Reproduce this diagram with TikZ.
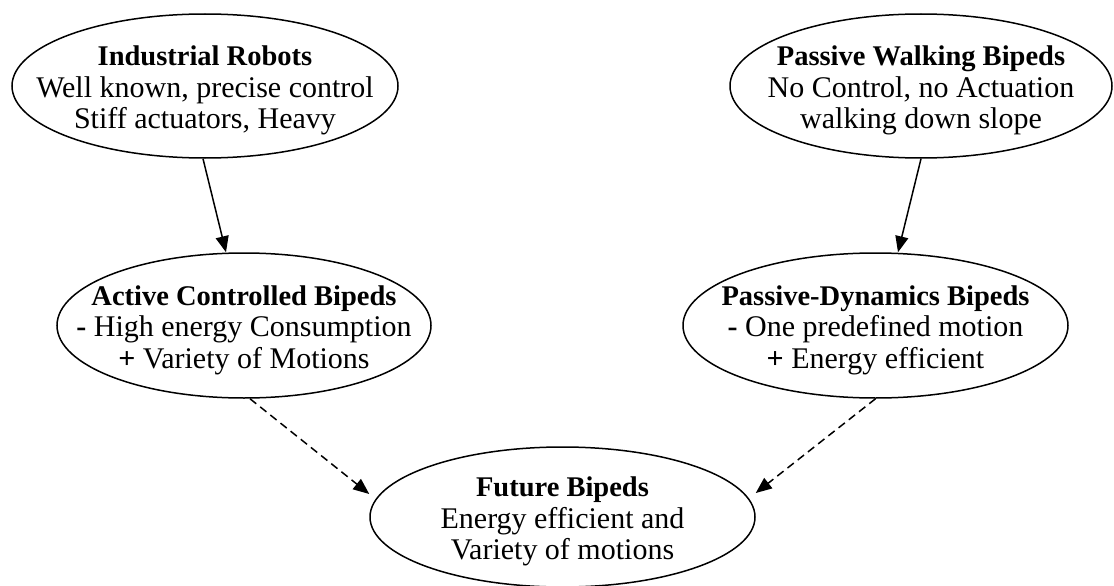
\documentclass[tikz,border=0pt]{standalone}
\usepackage{fontspec}
\setmainfont{Liberation Serif}
\usetikzlibrary{shapes.geometric,arrows.meta}
\newcommand{\hd}[1]{{\fontsize{28.5}{31.5}\selectfont\rule{0pt}{29pt}\bfseries #1}}
\begin{document}
\begin{tikzpicture}[x=1pt,y=-1pt,
  ell/.style={ellipse, draw, line width=1.5pt, align=center,
    inner xsep=-80pt, inner ysep=-40pt,
    font=\fontsize{30}{31.5}\selectfont},
  solidarr/.style={line width=1.5pt, -{Triangle[length=16pt,width=13pt]}},
  dasharr/.style={line width=1.5pt, dash pattern=on 8pt off 5pt, -{Triangle[length=16pt,width=13pt]}}]
\useasboundingbox (0,0) rectangle (1114,586);
\node[ell, minimum width=386pt, minimum height=144pt] (ir) at (205,86)
  {\hd{Industrial Robots}\\Well known, precise control\\Stiff actuators, Heavy};
\node[ell, minimum width=382pt, minimum height=144pt] (pw) at (921,86)
  {\hd{Passive Walking Bipeds}\\No Control, no Actuation\\walking down slope};
\node[ell, minimum width=374pt, minimum height=145pt] (ac) at (244,325.5)
  {\hd{Active Controlled Bipeds}\\\textbf{-} High energy Consumption\\\textbf{+} Variety of Motions};
\node[ell, minimum width=385pt, minimum height=145pt] (pd) at (875.5,325.5)
  {\hd{Passive-Dynamics Bipeds}\\\textbf{-} One predefined motion\\\textbf{+} Energy efficient};
\node[ell, minimum width=385pt, minimum height=140pt] (fb) at (562.5,517)
  {\hd{Future Bipeds}\\Energy efficient and\\Variety of motions};
\draw[solidarr] ([xshift=-2pt]ir.south) -- ([xshift=-18pt]ac.north);
\draw[solidarr] (pw.south) -- ([xshift=22.5pt]pd.north);
\draw[dasharr] ([xshift=6pt]ac.south) -- ([yshift=23pt]fb.west);
\draw[dasharr] (pd.south) -- ([yshift=24pt]fb.east);
\end{tikzpicture}
\end{document}
